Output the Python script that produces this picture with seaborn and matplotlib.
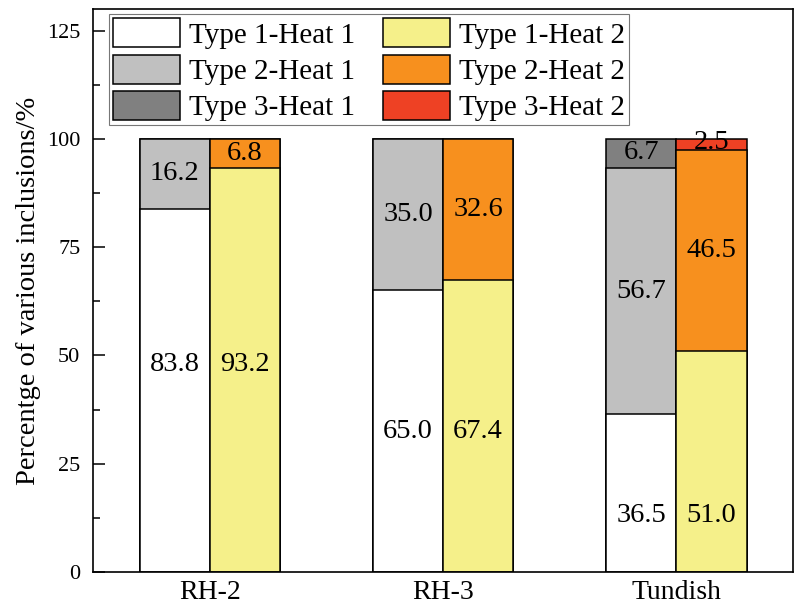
import matplotlib
matplotlib.use("Agg")
import matplotlib.pyplot as plt
from matplotlib.patches import Patch
from matplotlib.ticker import MultipleLocator
import numpy as np
import pandas as pd
import seaborn as sns

# Inclusion shares (%) per sampling stage
stages = ["RH-2", "RH-3", "Tundish"]
heats = ["Heat 1", "Heat 2"]
type1_h1 = [83.8, 65.0, 36.5]
type2_h1 = [16.2, 35.0, 56.7]
type3_h1 = [0.0, 0.0, 6.7]
type1_h2 = [93.2, 67.4, 51.0]
type2_h2 = [6.8, 32.6, 46.5]
type3_h2 = [0.0, 0.0, 2.5]

# Height of the Type 1 value text inside each stage's lower segment
type1_text_y = [48, 32.5, 13]

colors = {
    ("Type 1", "Heat 1"): "#FFFFFF",
    ("Type 2", "Heat 1"): "#C0C0C0",
    ("Type 3", "Heat 1"): "#808080",
    ("Type 1", "Heat 2"): "#F5F08A",
    ("Type 2", "Heat 2"): "#F7901E",
    ("Type 3", "Heat 2"): "#EE4124",
}

sns.set_theme(style="white")
plt.rcParams["font.family"] = ["Liberation Serif", "DejaVu Serif"]
plt.rcParams["text.color"] = "black"
plt.rcParams["axes.labelcolor"] = "black"
plt.rcParams["xtick.color"] = "black"
plt.rcParams["ytick.color"] = "black"

df = pd.DataFrame({
    "stage": stages * 2,
    "heat": [heats[0]] * 3 + [heats[1]] * 3,
    "Type 1": type1_h1 + type1_h2,
    "Type 2": type2_h1 + type2_h2,
    "Type 3": type3_h1 + type3_h2,
})
df["c1"] = df["Type 1"]
df["c2"] = df["Type 1"] + df["Type 2"]
df["c3"] = df["c2"] + df["Type 3"]

fig = plt.figure(figsize=(7.94, 6.12), dpi=100)
ax = fig.add_axes([0.117, 0.0654, 0.882, 0.92])

bar_width = 0.6
# Stack by drawing cumulative totals from the top layer down
for col, typ in [("c3", "Type 3"), ("c2", "Type 2"), ("c1", "Type 1")]:
    sns.barplot(
        data=df, x="stage", y=col, hue="heat", order=stages, hue_order=heats,
        palette={h: colors[(typ, h)] for h in heats},
        width=bar_width, dodge=True, gap=0, errorbar=None,
        edgecolor="black", linewidth=1.1, saturation=1, legend=False, ax=ax,
    )

# Value labels
fs_val = 20.5
off = bar_width / 4
for i in range(len(stages)):
    for h, dx in zip(heats, (-off, off)):
        row = df[(df["stage"] == stages[i]) & (df["heat"] == h)].iloc[0]
        ax.text(i + dx, type1_text_y[i], f"{row['Type 1']:.1f}",
                ha="center", va="center", fontsize=fs_val, color="black")
        ax.text(i + dx, row["c1"] + row["Type 2"] / 2, f"{row['Type 2']:.1f}",
                ha="center", va="center", fontsize=fs_val, color="black")
        if row["Type 3"] > 0:
            ax.text(i + dx, row["c2"] + row["Type 3"] / 2 + 0.4, f"{row['Type 3']:.1f}",
                    ha="center", va="center", fontsize=fs_val, color="black")

ax.set_xlim(-0.5, 2.5)
ax.yaxis.set_major_locator(MultipleLocator(25))
ax.yaxis.set_minor_locator(MultipleLocator(12.5))
ax.set_ylim(0, 130)
ax.set_xlabel("")
ax.set_ylabel("Percentge of various inclusions/%", fontsize=20.5, labelpad=4)

ax.tick_params(axis="y", which="major", direction="in", length=8.5, width=1.1,
               labelsize=16, pad=9, left=True, color="black", labelcolor="black")
ax.tick_params(axis="y", which="minor", direction="in", length=5, width=1.1,
               left=True, color="black")
ax.tick_params(axis="x", length=0, labelsize=20, pad=6, labelcolor="black")
for s in ax.spines.values():
    s.set_visible(True)
    s.set_color("black")
    s.set_linewidth(1.2)

handles = []
labels = []
for h in heats:
    for typ in ["Type 1", "Type 2", "Type 3"]:
        handles.append(Patch(facecolor=colors[(typ, h)], edgecolor="black", linewidth=1.1))
        labels.append(f"{typ}-{h}")
leg = ax.legend(handles, labels, ncol=2, loc="upper left",
                bbox_to_anchor=(0.023, 0.991), fontsize=21,
                handlelength=2.3, handleheight=1.15, labelspacing=0.2,
                handletextpad=0.3, columnspacing=0.95, borderpad=0.15,
                borderaxespad=0, frameon=True, fancybox=False)
leg.get_frame().set_edgecolor("#555555")
leg.get_frame().set_linewidth(0.8)
for t in leg.get_texts():
    t.set_color("black")

fig.savefig("out.png", dpi=100)
